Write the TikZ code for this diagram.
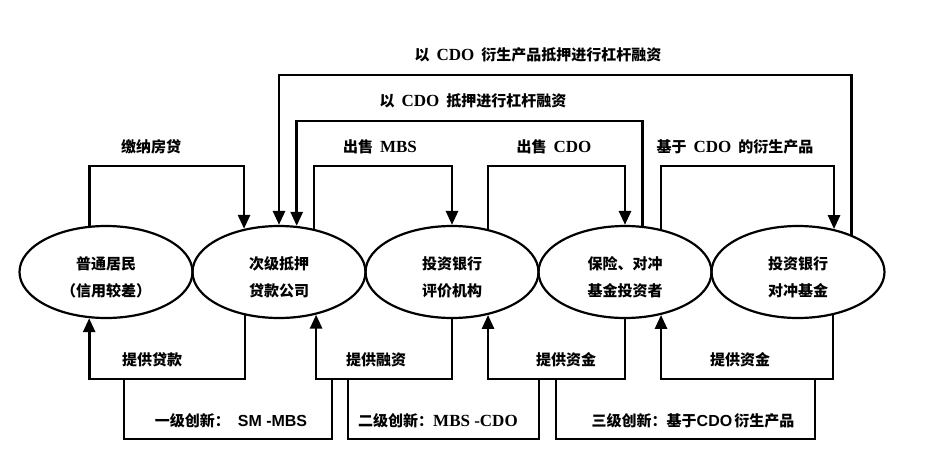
\documentclass[tikz,border=0pt]{standalone}
\usepackage{fontspec}
\setmainfont{Liberation Serif}
\setsansfont{Liberation Sans}
\newfontfamily\cjk{Noto Sans CJK SC}
\newcommand\en[1]{{\fontsize{17}{27}\selectfont #1}}
\newcommand\ensf[1]{{\sffamily\fontsize{16}{27}\selectfont #1}}
\usetikzlibrary{arrows.meta,shapes.geometric}

\begin{document}
\begin{tikzpicture}
  [x=1pt,y=-1pt,line width=2.8pt,
   every node/.style={font=\bfseries\fontsize{15}{27}\selectfont},
   party/.style={ellipse,draw,line width=2.2pt,minimum width=173pt,minimum height=92pt,inner sep=0pt,align=center,text height=50pt},
   flow/.style={-{Triangle[length=14pt,width=12pt]}}]
  \useasboundingbox (0,0) rectangle (926,466);

  \node[party] (e1) at (106,272) {{\cjk 普通居民}\\{\cjk （信用较差）}};
  \node[party] (e2) at (279,272) {{\cjk 次级抵押}\\{\cjk 贷款公司}};
  \node[party] (e3) at (452,272) {{\cjk 投资银行}\\{\cjk 评价机构}};
  \node[party] (e4) at (625,272) {{\cjk 保险、对冲}\\{\cjk 基金投资者}};
  \node[party] (e5) at (798,272) {{\cjk 投资银行}\\{\cjk 对冲基金}};

  % labels above
  \node (lev2) at (538,55) {{\cjk 以}\hspace{7pt}\en{CDO}\hspace{7pt}{\cjk 衍生产品抵押进行杠杆融资}};
  \node (lev1) at (473,101) {{\cjk 以}\hspace{7pt}\en{CDO}\hspace{7pt}{\cjk 抵押进行杠杆融资}};
  \node (pay) at (151,147) {{\cjk 缴纳房贷}};
  \node (mbs) at (380,147) {{\cjk 出售}\hspace{7pt}\en{MBS}};
  \node (cdo) at (554,147) {{\cjk 出售}\hspace{7pt}\en{CDO}};
  \node (der) at (735,147) {{\cjk 基于}\hspace{7pt}\en{CDO}\hspace{7pt}{\cjk 的衍生产品}};

  % labels below
  \node (loan) at (152,360) {{\cjk 提供贷款}};
  \node (fin) at (376,360) {{\cjk 提供融资}};
  \node (fund1) at (566,360) {{\cjk 提供资金}};
  \node (fund2) at (740,360) {{\cjk 提供资金}};
  \node (inn1) at (231,421) {{\cjk 一级创新：}\hspace{8pt}\ensf{SM -MBS}};
  \node (inn2) at (438,421) {{\cjk 二级创新：}\en{MBS -CDO}};
  \node (inn3) at (693,421) {{\cjk 三级创新：基于}\ensf{CDO}\hspace{2pt}{\cjk 衍生产品}};

  \coordinate (k1) at (124,379);
  \coordinate (k2) at (332,379);
  \coordinate (k3) at (348,379);
  \coordinate (k4) at (539,379);
  \coordinate (k5) at (556,379);
  \coordinate (k6) at (815,379);

  \foreach \from/\to/\lev in {e1.110/e2.129/166,e2.51/e3.north/166,e3.50/e4.north/166,e4.50/e5.50/166,e4.69/e2.69/121,e5.35/e2.north/75}
    \draw[flow] (\from) -- (\from |- 0,\lev) -- (\to |- 0,\lev) -- (\to);

  \foreach \from/\to in {e2.232/e1.250,e3.south/e2.311,e4.south/e3.310,e5.309/e4.310}
    \draw[flow] (\from) -- (\from |- 0,379) -- (\to |- 0,379) -- (\to);

  \foreach \from/\to in {k1/k2,k3/k4,k5/k6}
    \draw (\from) -- (\from |- 0,439) -- (\to |- 0,439) -- (\to);

\end{tikzpicture}
\end{document}
